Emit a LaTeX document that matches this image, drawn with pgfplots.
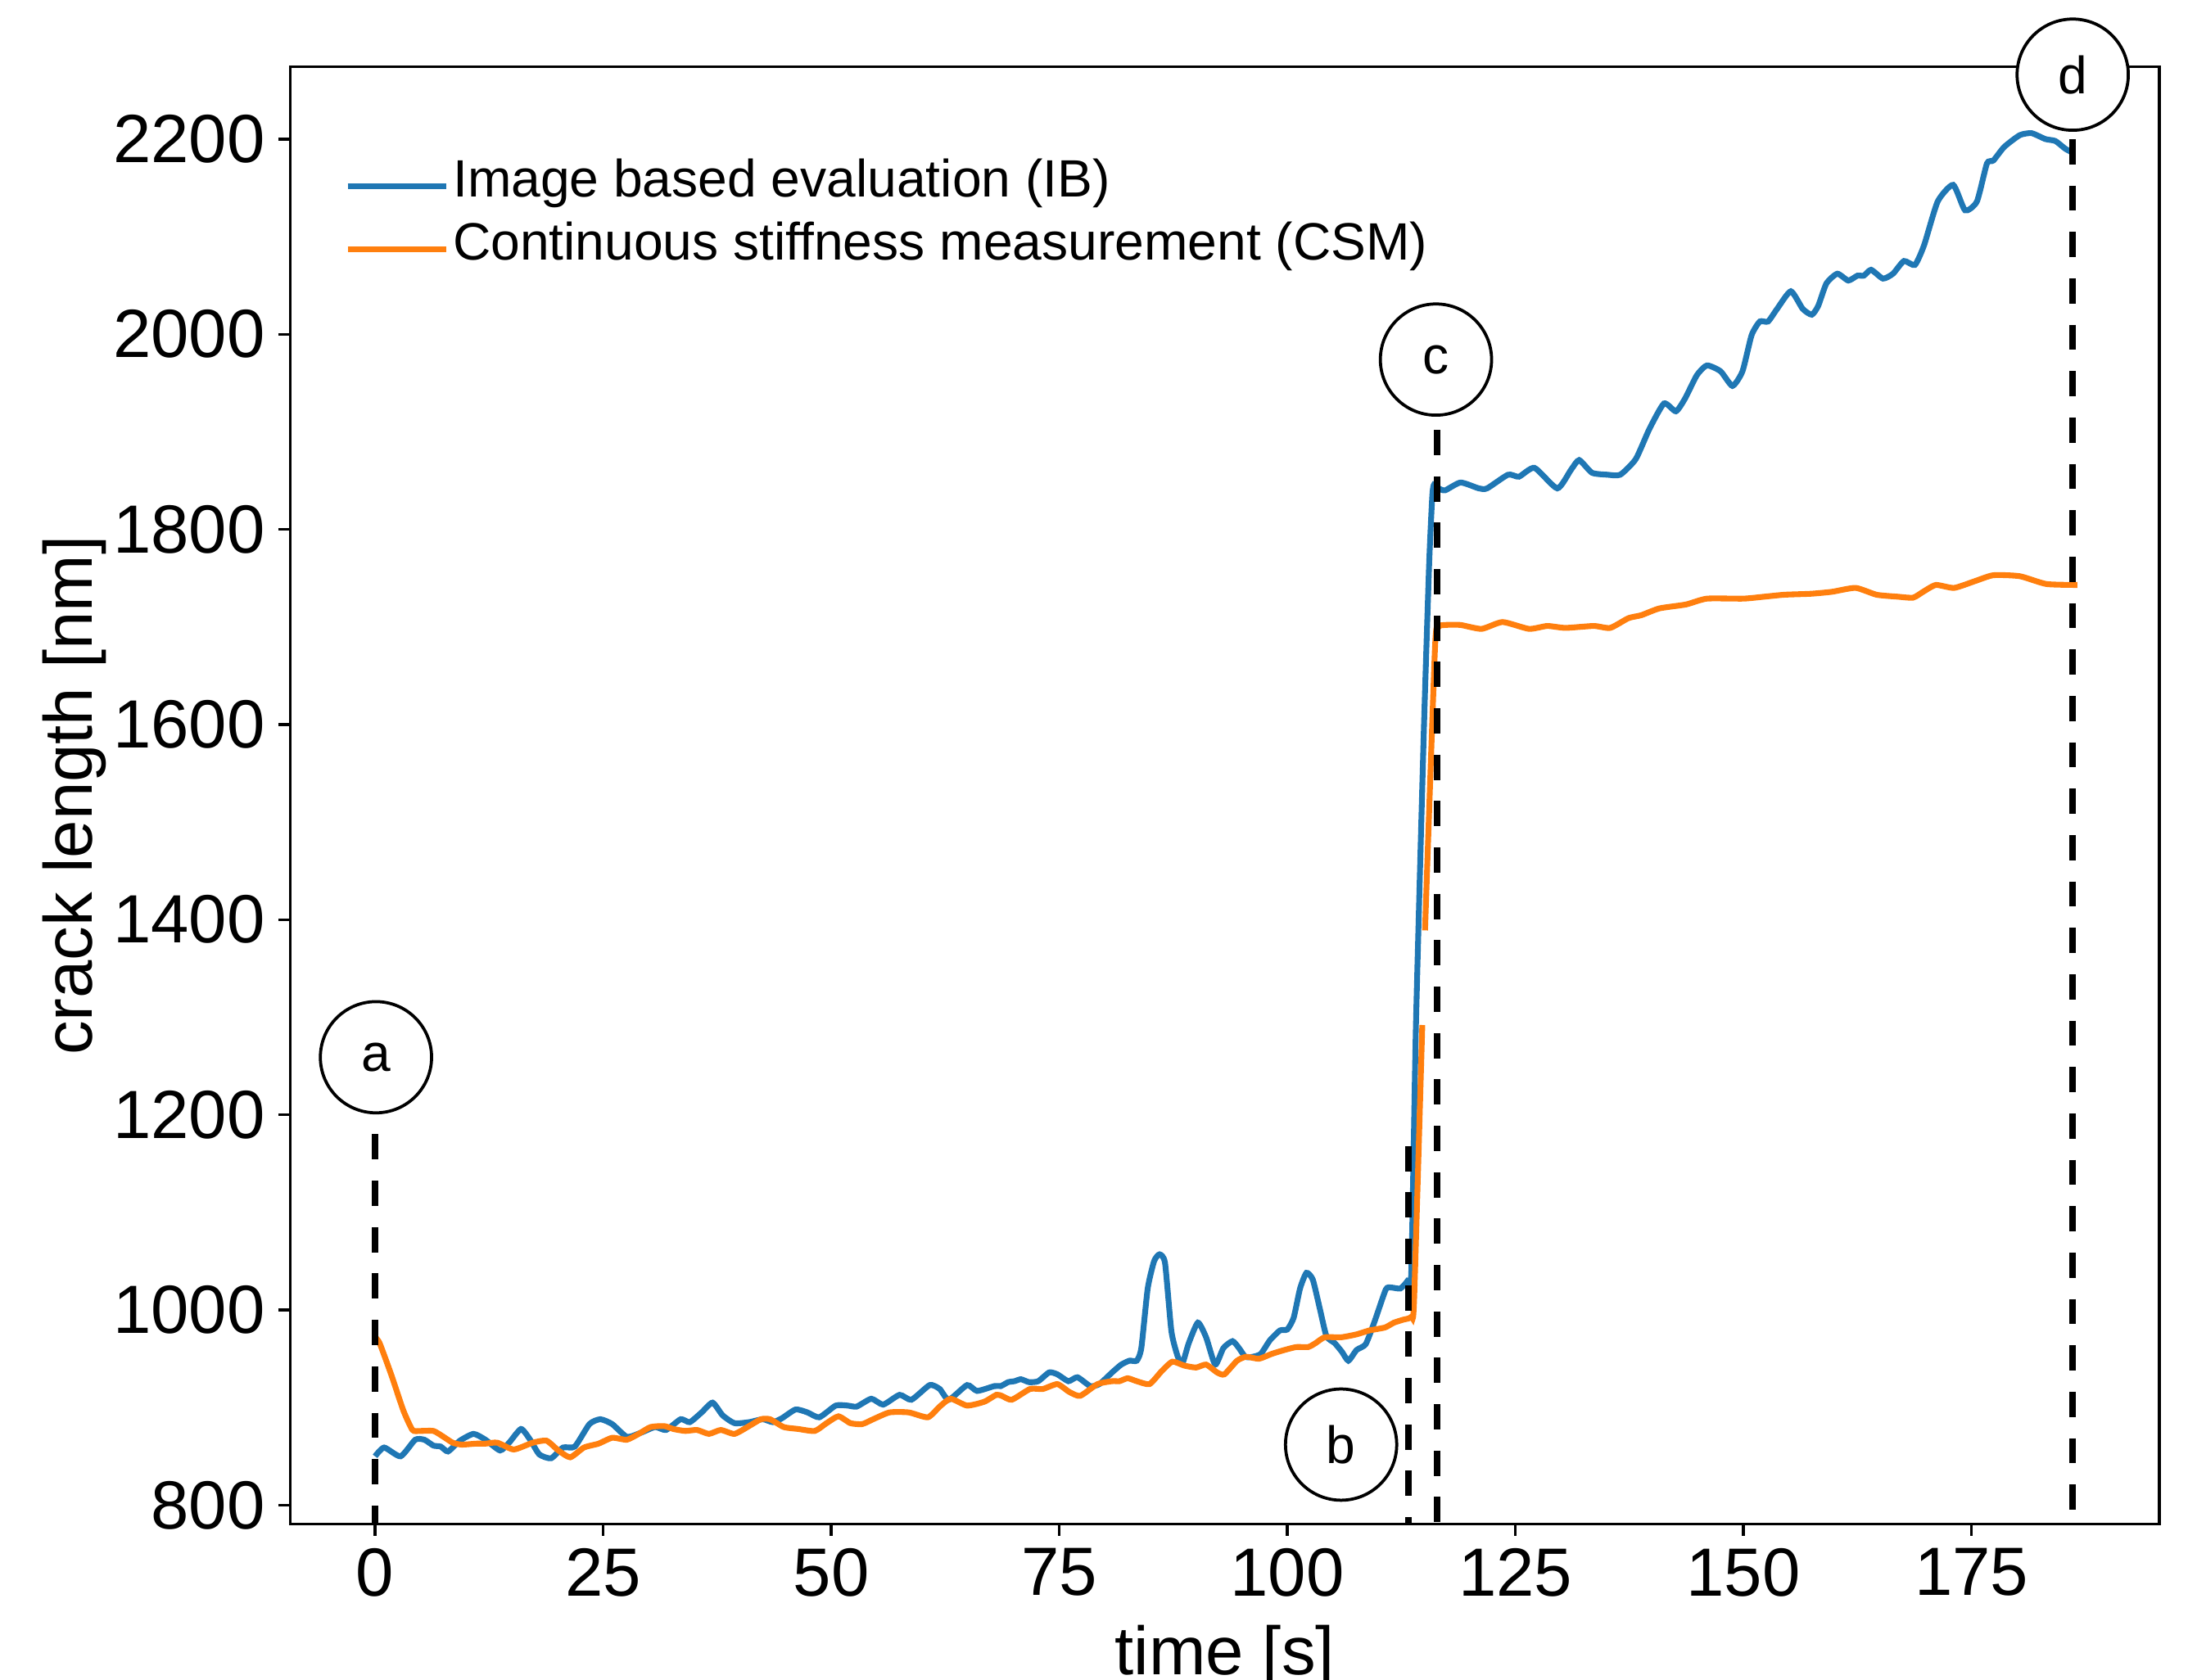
\documentclass[border=0pt]{standalone}
\usepackage{fontspec}
\setmainfont{Liberation Sans}
\usepackage{pgfplots}
\pgfplotsset{compat=1.18}
\definecolor{cIB}{HTML}{1F77B4}
\definecolor{cCSM}{HTML}{FF7F0E}

\begin{document}
\begin{tikzpicture}
\begin{axis}[
  name=ax,
  width=547.8pt, height=427.2pt, scale only axis,
  xmin=-9.3, xmax=195.6, ymin=780.4, ymax=2274,
  xtick={0,25,...,175}, ytick={800,1000,...,2200},
  axis line style={line width=0.8pt},
  tick align=outside, tick pos=left,
  major tick length=3.4pt,
  every tick/.style={black, line width=0.8pt},
  tick label style={font=\fontsize{20}{24}\selectfont},
  /pgf/number format/assume math mode=true,
  /pgf/number format/1000 sep={},
  xticklabel style={inner sep=3.5pt},
  yticklabel style={inner sep=3.8pt},
  xlabel={time [s]}, ylabel={crack length [nm]},
  label style={font=\fontsize{20}{24}\selectfont},
  xlabel style={at={(axis description cs:0.5,-0.103)}, anchor=base},
  ylabel style={at={(axis description cs:-0.1154,0.5)}, anchor=center},
  clip=false,
  legend style={draw=none, fill=none, inner sep=0pt, outer sep=0pt,
    at={(axis description cs:0.0292,0.8978)}, anchor=west,
    font=\fontsize{15.4}{18}\selectfont,
    nodes={inner sep=0pt, text height=11.2pt, text depth=3.8pt},
    row sep=3.5pt, column sep=1pt},
  legend cell align=left,
  legend image code/.code={\draw[#1] (0pt,-0.5pt) -- (29pt,-0.5pt);},
  every axis plot/.append style={line width=1.7pt, smooth, tension=0.35},
]
% image based evaluation
\addplot[cIB] coordinates {
(0,850) (1.0,859) (2.8,850) (4.4,867) (5.4,867) (6.4,861) (7.2,860) (8.0,855)
(9.3,866) (10.8,873) (12.1,867) (13.7,856) (14.7,864) (16.0,878) (17.0,867)
(18.0,852) (19.3,848) (20.6,859) (21.9,860) (23.5,883) (24.7,888) (26.0,883)
(27.6,870) (29.1,874) (30.7,880) (31.9,877) (33.5,888) (34.5,885) (35.8,895)
(37.0,905) (38.1,892) (39.4,884) (41.0,885) (42.5,888) (43.6,885) (44.6,889)
(46.1,898) (47.4,895) (48.7,890) (50.5,902) (51.8,902) (52.8,901) (54.4,909)
(55.7,903) (57.5,913) (58.8,908) (60.8,923) (61.9,919) (62.9,908) (64.9,923)
(66.0,917) (67.9,922) (68.6,922) (69.4,926) (70.1,927) (70.8,929) (71.7,926)
(72.7,927) (73.9,936) (74.8,934) (76.0,927) (77.0,931) (78.4,922) (79.4,924)
(80.8,936) (81.8,944) (82.7,948) (83.5,948) (84.0,961) (84.7,1022) (85.4,1050)
(86.0,1057) (86.6,1048) (87.3,978) (88.0,952) (88.5,945) (89.2,966) (90.2,987)
(91.1,972) (92.1,944) (93.0,961) (94.0,968) (94.7,961) (95.4,952) (96.2,952)
(97.1,955) (98.1,969) (99.2,979) (100.0,980) (100.7,992) (101.4,1022) (102.1,1038)
(102.8,1031) (103.6,1000) (104.3,973) (105.2,966) (106.0,957) (106.7,948)
(107.6,959) (108.6,965) (109.6,989) (110.8,1021) (111.4,1023) (112.4,1022)
(113.2,1030) (113.6,1040) (114.1,1290) (114.95,1587) (115.55,1764) (115.9,1835)
(116.1,1846) (116.6,1842) (117.3,1840) (119.0,1848) (121.0,1842) (121.9,1842)
(124.2,1856) (125.4,1854) (127.1,1863) (129.6,1842) (131.1,1861) (132.0,1871)
(133.4,1858) (135.1,1856) (136.5,1856) (138.2,1872) (139.7,1903) (141.3,1929)
(142.6,1921) (143.6,1934) (144.9,1958) (146.0,1968) (147.5,1962) (148.8,1947)
(149.9,1962) (150.9,1999) (151.8,2013) (152.7,2013) (153.7,2026) (155.2,2044)
(156.5,2026) (157.5,2020) (158.2,2029) (159.1,2052) (160.3,2062) (161.5,2055)
(162.5,2060) (163.2,2060) (164.0,2066) (165.3,2057) (166.4,2062) (167.6,2075)
(168.8,2071) (169.8,2091) (171.3,2136) (173.0,2153) (174.3,2127) (175.6,2136)
(176.7,2175) (177.4,2178) (178.6,2192) (180.3,2204) (181.6,2206) (183.1,2200)
(184.2,2198) (185.3,2190) (186.3,2185)
};
\addlegendentry{Image based evaluation (IB)}
% continuous stiffness measurement
\addplot[cCSM, unbounded coords=jump] coordinates {
(0,972) (0.5,966) (1.8,933) (3.1,897) (4.1,877) (4.9,876) (6.4,876) (7.5,870)
(8.5,864) (9.5,862) (11.1,863) (12.1,863) (13.4,864) (15.2,857) (17.3,864)
(18.8,866) (20.1,856) (21.4,849) (22.9,859) (24.5,863) (26.0,869) (27.6,867)
(28.9,873) (30.2,880) (31.7,881) (32.7,878) (34.0,876) (35.3,877) (36.6,873)
(37.9,877) (39.4,873) (41.0,881) (42.3,888) (43.3,888) (44.8,880) (46.4,878)
(48.2,876) (49.5,884) (50.8,891) (52.1,884) (53.4,883) (54.6,888) (56.4,895)
(58.5,895) (60.6,890) (61.9,901) (63.1,909) (64.9,902) (66.8,906) (68.1,913)
(68.7,912) (69.8,908) (71.8,919) (73.2,919) (74.8,924) (76.1,916) (77.3,912)
(79.2,924) (80.8,927) (81.6,927) (82.5,930) (83.5,927) (84.9,924) (86.2,937)
(87.4,947) (88.7,943) (90.0,941) (91.1,944) (92.3,936) (93.1,934) (94.5,948)
(95.5,952) (96.9,950) (98.3,955) (99.7,959) (101.0,962) (102.3,962) (103.1,966)
(104.1,972) (105.9,972) (107.6,975) (109.0,979) (110.7,982) (111.7,987)
(112.7,990) (113.6,993) (113.9,1010) (114.8,1292) (114.95,nan)
(115.1,1389) (116.2,1680) (116.6,1700) (117.3,1702) (119.0,1702) (121.3,1698)
(123.6,1705) (126.5,1698) (128.5,1701) (130.5,1699) (133.6,1701) (135.4,1699)
(137.4,1709) (138.8,1712) (140.8,1719) (143.7,1723) (146.0,1729) (150.0,1729)
(152.3,1731) (154.5,1733) (157.4,1734) (159.7,1736) (162.3,1740) (164.6,1733)
(166.9,1731) (168.6,1730) (169.7,1736) (171.1,1743) (173.1,1740) (175.4,1747)
(177.4,1753) (180.3,1752) (183.2,1744) (186.6,1743)
};
\addlegendentry{Continuous stiffness measurement (CSM)}
% event markers
\addplot[black, line width=2pt, sharp plot, dash pattern=on 7.4pt off 6.2pt, forget plot] coordinates {(0,1180) (0,780.4)};
\addplot[black, line width=2pt, sharp plot, dash pattern=on 7.4pt off 6.2pt, forget plot] coordinates {(113.3,1168) (113.3,780.4)};
\addplot[black, line width=2pt, sharp plot, dash pattern=on 7.4pt off 6.2pt, forget plot] coordinates {(116.4,1902) (116.4,780.4)};
\addplot[black, line width=2pt, sharp plot, dash pattern=on 7.4pt off 6.2pt, forget plot] coordinates {(186.1,2200) (186.1,780.4)};
\tikzset{evt/.style={draw, circle, fill=white, line width=0.9pt, minimum size=32.6pt,
  inner sep=0pt, font=\fontsize{15.4}{18}\selectfont}}
\node[evt] at (axis cs:0.1,1259) {a};
\node[evt] at (axis cs:105.9,862) {b};
\node[evt] at (axis cs:116.3,1974) {c};
\node[evt] at (axis cs:186.1,2266) {d};
\end{axis}
\pgfresetboundingbox
\useasboundingbox ([xshift=-85.06pt,yshift=-45.43pt]ax.south west) rectangle ([xshift=8.4pt,yshift=19.6pt]ax.north east);
\end{tikzpicture}
\end{document}
